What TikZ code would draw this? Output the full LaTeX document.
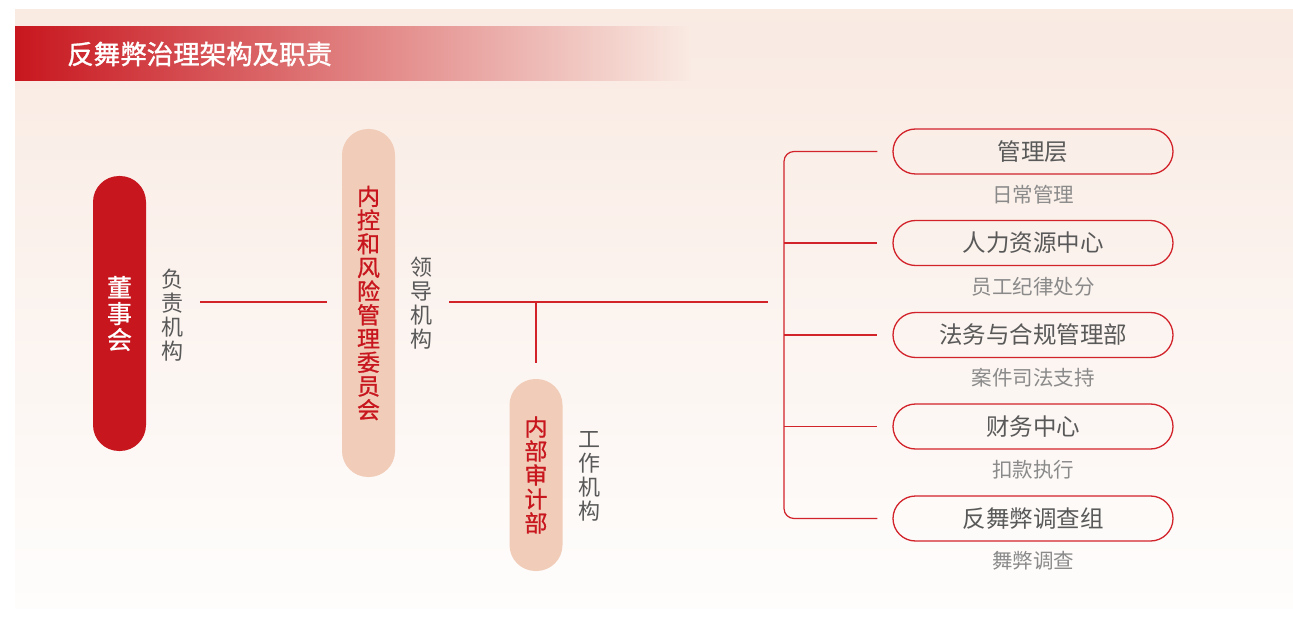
\documentclass[tikz,border=0pt]{standalone}
\usepackage{fontspec}
\setmainfont{Noto Sans CJK SC}
\newfontfamily\medfont[FakeBold=0.9]{Noto Sans CJK SC}
\newfontfamily\titfont[FakeBold=1.3]{Noto Sans CJK SC}
\usetikzlibrary{calc}
\definecolor{bgtop}{HTML}{F9EAE2}
\definecolor{bgbot}{HTML}{FEFDFC}
\definecolor{hred}{HTML}{C8161E}
\definecolor{lred}{HTML}{D2232B}
\definecolor{peach}{HTML}{F1CCB8}
\definecolor{tgray}{HTML}{595959}
\definecolor{sgray}{HTML}{8A8A8A}
\begin{document}
\begin{tikzpicture}[x=1pt,y=-1pt,
  pill/.style={rounded corners=26pt, minimum width=53pt, inner sep=0pt, align=center},
  vlab/.style={align=center, text=tgray, font=\fontsize{22}{24}\selectfont, inner sep=0pt},
  conn/.style={draw=lred, line width=1.2pt},
  mbox/.style={draw=lred, line width=1.3pt, rounded corners=22.5pt, minimum width=280pt, minimum height=45pt, inner sep=0pt, text=tgray, font=\fontsize{23.5}{26}\selectfont},
  sub/.style={text=sgray, font=\fontsize{20.5}{24}\selectfont, inner sep=0pt}]
\useasboundingbox (0,0) rectangle (1293,620);
\fill[white] (0,0) rectangle (1293,620);
% background panel
\fill[top color=bgtop, bottom color=bgbot] (15,10) rectangle (1293,608);
% header bar
\fill[left color=hred, right color=bgtop] (15,27) rectangle (690,81);
\node[anchor=west, text=white, font=\titfont\fontsize{26.5}{28}\selectfont, inner sep=0pt] (title) at (67,54) {反舞弊治理架构及职责};

% pills
\node[pill, fill=hred, minimum height=275pt, text=white, font=\medfont\fontsize{25}{26}\selectfont] (dsh) at (119.5,313.5) {董\\事\\会};
\node[pill, fill=peach, minimum height=348pt, text=hred, font=\medfont\fontsize{23}{23.7}\selectfont] (nk) at (368.5,303) {内\\控\\和\\风\\险\\管\\理\\委\\员\\会};
\node[pill, fill=peach, minimum height=192pt, text=hred, font=\medfont\fontsize{23}{24}\selectfont] (sj) at (536,475) {内\\部\\审\\计\\部};

% vertical labels
\node[vlab] (l1) at (172.5,315) {负\\责\\机\\构};
\node[vlab] (l2) at (421.5,303.5) {领\\导\\机\\构};
\node[vlab] (l3) at (589,476.5) {工\\作\\机\\构};

% right boxes
\node[mbox] (m1) at (1033,151.5) {管理层};
\node[mbox] (m2) at (1033,243) {人力资源中心};
\node[mbox] (m3) at (1033,335) {法务与合规管理部};
\node[mbox] (m4) at (1033,426.5) {财务中心};
\node[mbox] (m5) at (1033,518.5) {反舞弊调查组};
\node[sub] (s1) at (1033,195) {日常管理};
\node[sub] (s2) at (1033,286.5) {员工纪律处分};
\node[sub] (s3) at (1033,378) {案件司法支持};
\node[sub] (s4) at (1033,469.5) {扣款执行};
\node[sub] (s5) at (1033,561) {舞弊调查};

% connectors
\coordinate (busL) at (449,302);
\coordinate (busR) at (768,302);
\coordinate (busT) at (536,302);
\coordinate (bx) at (784,335);
\draw[conn, shorten <=54pt, shorten >=15pt] (dsh.east |- busL) -- (nk.west |- busL);
\draw[conn] (busL) -- (busR);
\draw[conn, shorten >=16pt] (busT) -- (sj.north);
\draw[conn, rounded corners=10pt, shorten <=15pt, shorten >=15pt] (m1.west) -| (bx) |- (m5.west);
\draw[conn, shorten >=15pt] (bx |- m2.west) -- (m2.west);
\draw[conn, shorten >=15pt] (bx |- m3.west) -- (m3.west);
\draw[conn, shorten >=15pt] (bx |- m4.west) -- (m4.west);
\end{tikzpicture}
\end{document}
